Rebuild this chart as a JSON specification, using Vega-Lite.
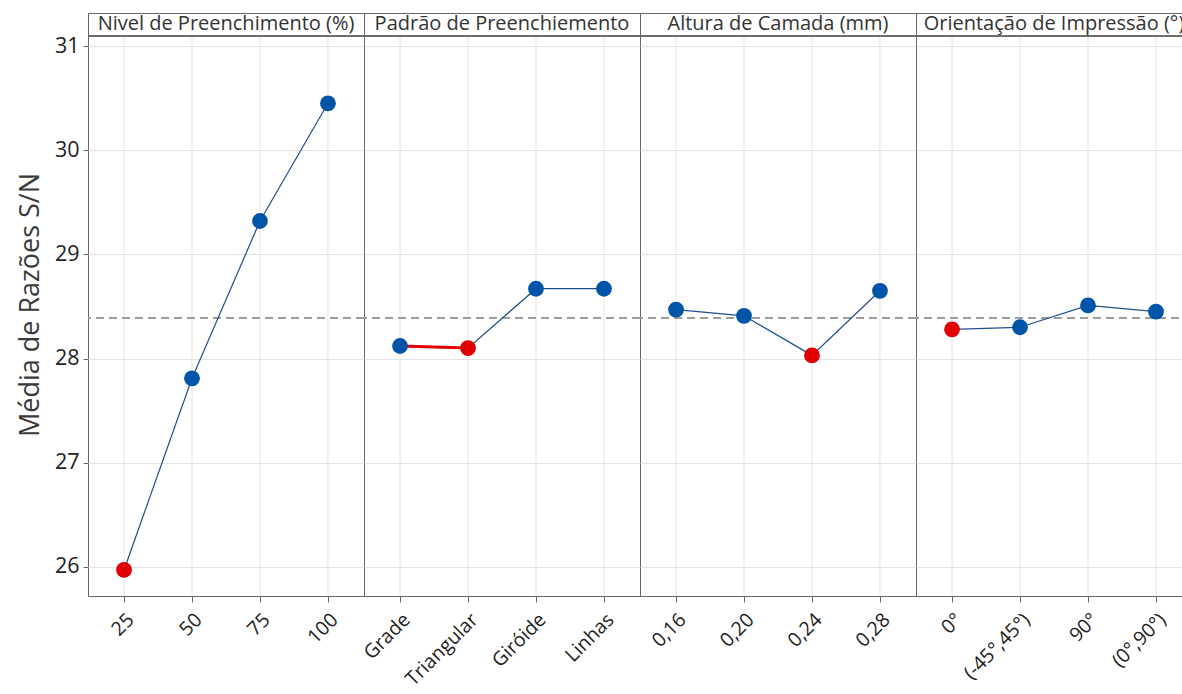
{
  "$schema": "https://vega.github.io/schema/vega-lite/v6.json",
  "padding": {"left": 16, "top": 12, "right": 0, "bottom": 0},
  "background": "white",
  "bounds": "flush",
  "data": {"values": [
    {"factor": "Nivel de Preenchimento (%)", "level": "25", "idx": 1, "value": 25.97},
    {"factor": "Nivel de Preenchimento (%)", "level": "50", "idx": 2, "value": 27.81},
    {"factor": "Nivel de Preenchimento (%)", "level": "75", "idx": 3, "value": 29.32},
    {"factor": "Nivel de Preenchimento (%)", "level": "100", "idx": 4, "value": 30.45},
    {"factor": "Padrão de Preenchiemento", "level": "Grade", "idx": 1, "value": 28.12},
    {"factor": "Padrão de Preenchiemento", "level": "Triangular", "idx": 2, "value": 28.10},
    {"factor": "Padrão de Preenchiemento", "level": "Giróide", "idx": 3, "value": 28.67},
    {"factor": "Padrão de Preenchiemento", "level": "Linhas", "idx": 4, "value": 28.67},
    {"factor": "Altura de Camada (mm)", "level": "0,16", "idx": 1, "value": 28.47},
    {"factor": "Altura de Camada (mm)", "level": "0,20", "idx": 2, "value": 28.41},
    {"factor": "Altura de Camada (mm)", "level": "0,24", "idx": 3, "value": 28.03},
    {"factor": "Altura de Camada (mm)", "level": "0,28", "idx": 4, "value": 28.65},
    {"factor": "Orientação de Impressão (°)", "level": "0°", "idx": 1, "value": 28.28},
    {"factor": "Orientação de Impressão (°)", "level": "(-45°,45°)", "idx": 2, "value": 28.30},
    {"factor": "Orientação de Impressão (°)", "level": "90°", "idx": 3, "value": 28.51},
    {"factor": "Orientação de Impressão (°)", "level": "(0°,90°)", "idx": 4, "value": 28.45}
  ]},
  "facet": {
    "column": {
      "field": "factor",
      "type": "nominal",
      "sort": ["Nivel de Preenchimento (%)", "Padrão de Preenchiemento", "Altura de Camada (mm)", "Orientação de Impressão (°)"],
      "header": {"title": null, "labelFontSize": 20, "labelColor": "#333333", "labelFont": "Open Sans", "labelPadding": -41, "labelBaseline": "bottom", "labelLimit": 0}
    }
  },
  "spacing": 0,
  "resolve": {"scale": {"x": "independent"}},
  "spec": {
    "width": 276,
    "height": 583,
    "encoding": {
      "x": {"field": "level", "type": "ordinal", "sort": {"field": "idx"},
        "scale": {"type": "point", "padding": 0.53},
        "axis": {"title": null, "labelAngle": -45, "labelFontSize": 19.5, "labelColor": "#222222", "labelFont": "Open Sans", "domain": false, "ticks": true, "tickSize": 6, "tickColor": "#666666", "grid": false, "labelPadding": 8}
      }
    },
    "layer": [
      {
        "mark": {"type": "rule", "color": "#e3e3e3", "strokeWidth": 1},
        "encoding": {
          "y": {"datum": 25.72, "type": "quantitative", "scale": {"domain": [25.72, 31.317], "nice": false, "zero": false},
            "axis": {"title": "Média de Razões S/N", "values": [26, 27, 28, 29, 30, 31], "format": "d", "grid": true, "gridColor": "#e3e3e3", "domain": false, "ticks": true, "tickSize": 5, "tickColor": "#666666", "labelFontSize": 21.5, "labelColor": "#222222", "labelFont": "Open Sans", "titleFont": "Open Sans", "titleFontSize": 27, "titleFontWeight": "normal", "titleColor": "#3a3a3a", "titlePadding": 10, "labelPadding": 4}},
          "y2": {"datum": 31.096}
        }
      },
      {
        "mark": {"type": "rule", "color": "#9a9a9a", "strokeWidth": 1.3, "strokeDash": [8, 5]},
        "encoding": {"y": {"datum": 28.39, "type": "quantitative"}, "x": null}
      },
      {
        "mark": {"type": "rule", "color": "#666666", "strokeWidth": 1},
        "encoding": {"y": {"datum": 31.096, "type": "quantitative"}, "x": null}
      },
      {
        "mark": {"type": "line", "color": "#1f4f8f", "strokeWidth": 1.2},
        "encoding": {"y": {"field": "value", "type": "quantitative"}}
      },
      {
        "transform": [{"filter": "datum.factor === 'Padrão de Preenchiemento' && datum.idx <= 2"}],
        "mark": {"type": "line", "color": "#e00000", "strokeWidth": 3},
        "encoding": {"y": {"field": "value", "type": "quantitative"}}
      },
      {
        "transform": [{"joinaggregate": [{"op": "min", "field": "value", "as": "minv"}], "groupby": ["factor"]}],
        "mark": {"type": "circle", "size": 250, "opacity": 1},
        "encoding": {
          "y": {"field": "value", "type": "quantitative"},
          "color": {"condition": {"test": "datum.value === datum.minv", "value": "#e00000"}, "value": "#0055a8"}
        }
      }
    ]
  },
  "config": {
    "view": {"stroke": "#666666", "strokeWidth": 1},
    "font": "Open Sans"
  }
}
